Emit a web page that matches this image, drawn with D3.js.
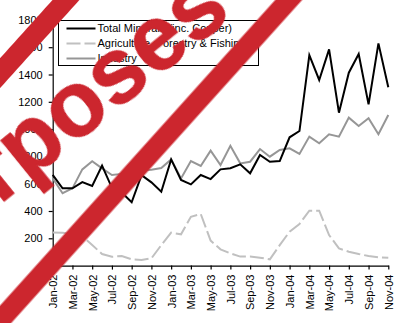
<!DOCTYPE html>
<html>
<head>
<meta charset="utf-8">
<script src="https://cdn.jsdelivr.net/npm/d3@7"></script>
<style>
  body { margin: 0; background: #fff; }
  svg { display: block; font-family: "Liberation Sans", Arial, sans-serif; }
</style>
</head>
<body>
<div class="chart"></div>
<script>
// months on the category axis
const months = ["Jan-02","Feb-02","Mar-02","Apr-02","May-02","Jun-02","Jul-02","Aug-02","Sep-02","Oct-02","Nov-02","Dec-02",
                "Jan-03","Feb-03","Mar-03","Apr-03","May-03","Jun-03","Jul-03","Aug-03","Sep-03","Oct-03","Nov-03","Dec-03",
                "Jan-04","Feb-04","Mar-04","Apr-04","May-04","Jun-04","Jul-04","Aug-04","Sep-04","Oct-04","Nov-04"];

const totalMinerals = [664, 566, 566, 612, 583, 732, 570, 535, 464, 663, 610, 541,
                       778, 627, 595, 664, 634, 705, 713, 742, 676, 810, 761, 766,
                       940, 986, 1542, 1360, 1584, 1120, 1413, 1550, 1181, 1628, 1306];
const agriculture = [243, 241, 230, 215, 151, 85, 65, 70, 46, 41, 53, 150,
                     241, 229, 358, 378, 183, 119, 90, 66, 66, 58, 46, 150,
                     249, 305, 402, 402, 224, 126, 102, 85, 70, 61, 58];
const industry = [640, 530, 566, 705, 765, 712, 664, 672, 690, 698, 703, 715,
                  778, 639, 766, 730, 842, 737, 878, 749, 761, 854, 798, 847,
                  859, 818, 945, 896, 962, 945, 1084, 1023, 1079, 962, 1103];

const yTicks = [200, 400, 600, 800, 1000, 1200, 1400, 1600, 1800];
const xTickLabels = months.filter((m, i) => i % 2 === 0);

const seriesNames = ["Total Minerals (inc. Copper)", "Agriculture, Forestry & Fishing", "Industry"];
const watermarkText = "For illustration purposes";

const width = 405, height = 323;
const plot = {left: 52.7, right: 388.3, top: 19.9, bottom: 265.6};
const fontFamily = "'Liberation Sans', Arial, sans-serif";
const fontSize = 11;

const svg = d3.select(".chart").append("svg")
    .attr("width", width)
    .attr("height", height);

svg.append("rect").attr("width", width).attr("height", height).attr("fill", "#fff");

const x = d3.scalePoint().domain(months).range([plot.left, plot.right]);
const y = d3.scaleLinear().domain([0, 1800]).range([plot.bottom, plot.top]);

// y axis
const yAxis = svg.append("g")
    .attr("transform", `translate(${plot.left},0)`)
    .call(d3.axisLeft(y).tickValues(yTicks).tickFormat(d3.format("d"))
        .tickSize(4).tickSizeOuter(0).tickPadding(6));

// x axis
const xAxis = svg.append("g")
    .attr("transform", `translate(0,${plot.bottom})`)
    .call(d3.axisBottom(x).tickValues(xTickLabels).tickSize(4).tickSizeOuter(0));

xAxis.selectAll("text")
    .attr("transform", "rotate(-90)")
    .attr("text-anchor", "end")
    .attr("x", -9)
    .attr("y", 0)
    .attr("dy", "0.35em");

for (let ax of [xAxis, yAxis]) {
    ax.attr("font-size", fontSize).attr("font-family", fontFamily);
    ax.selectAll("path, line").attr("stroke", "#000").attr("stroke-width", 1.2);
    ax.selectAll("text").attr("fill", "#000");
}

// lines
const line = d3.line()
    .x((d, i) => x(months[i]))
    .y(d => y(d));

const series = [
    {name: seriesNames[1], values: agriculture, color: "#c0c0c0", dash: "14,4"},
    {name: seriesNames[2], values: industry, color: "#969696", dash: null},
    {name: seriesNames[0], values: totalMinerals, color: "#000000", dash: null}
];

svg.selectAll("path.series")
    .data(series)
    .join("path")
    .attr("class", "series")
    .attr("fill", "none")
    .attr("stroke", d => d.color)
    .attr("stroke-width", 2)
    .attr("stroke-dasharray", d => d.dash)
    .attr("d", d => line(d.values));

// legend
const legend = svg.append("g").attr("transform", "translate(58.5,20.5)");
legend.append("rect")
    .attr("width", 200).attr("height", 45)
    .attr("fill", "#fff").attr("stroke", "#000").attr("stroke-width", 1);

const legendItems = [series[2], series[0], series[1]];
legendItems.forEach((s, i) => {
    const ly = 8 + i * 15;
    legend.append("line")
        .attr("x1", 8).attr("x2", 37)
        .attr("y1", ly).attr("y2", ly)
        .attr("stroke", s.color).attr("stroke-width", 2)
        .attr("stroke-dasharray", s.dash);
    legend.append("text")
        .attr("x", 39).attr("y", ly)
        .attr("dy", "0.35em")
        .attr("font-size", fontSize)
        .attr("font-family", fontFamily)
        .attr("fill", "#000")
        .text(s.name);
});

// red diagonal watermark on top
const defs = svg.append("defs");
defs.append("filter").attr("id", "soft")
    .append("feGaussianBlur").attr("stdDeviation", 0.7);

const red = "#cc252d";

const bands = svg.append("g")
    .attr("transform", "rotate(-48)")
    .attr("filter", "url(#soft)");
for (let v of [49, 214.5]) {
    bands.append("line")
        .attr("x1", -500).attr("x2", 700)
        .attr("y1", v).attr("y2", v)
        .attr("stroke", red).attr("stroke-width", 20);
}

svg.append("g")
    .attr("transform", "rotate(-39)")
    .attr("filter", "url(#soft)")
  .append("text")
    .attr("x", 172).attr("y", 159)
    .attr("text-anchor", "end")
    .attr("font-size", 92)
    .attr("font-weight", "bold")
    .attr("font-family", fontFamily)
    .attr("fill", red)
    .attr("stroke", red)
    .attr("stroke-width", 1)
    .text(watermarkText);
</script>
</body>
</html>
